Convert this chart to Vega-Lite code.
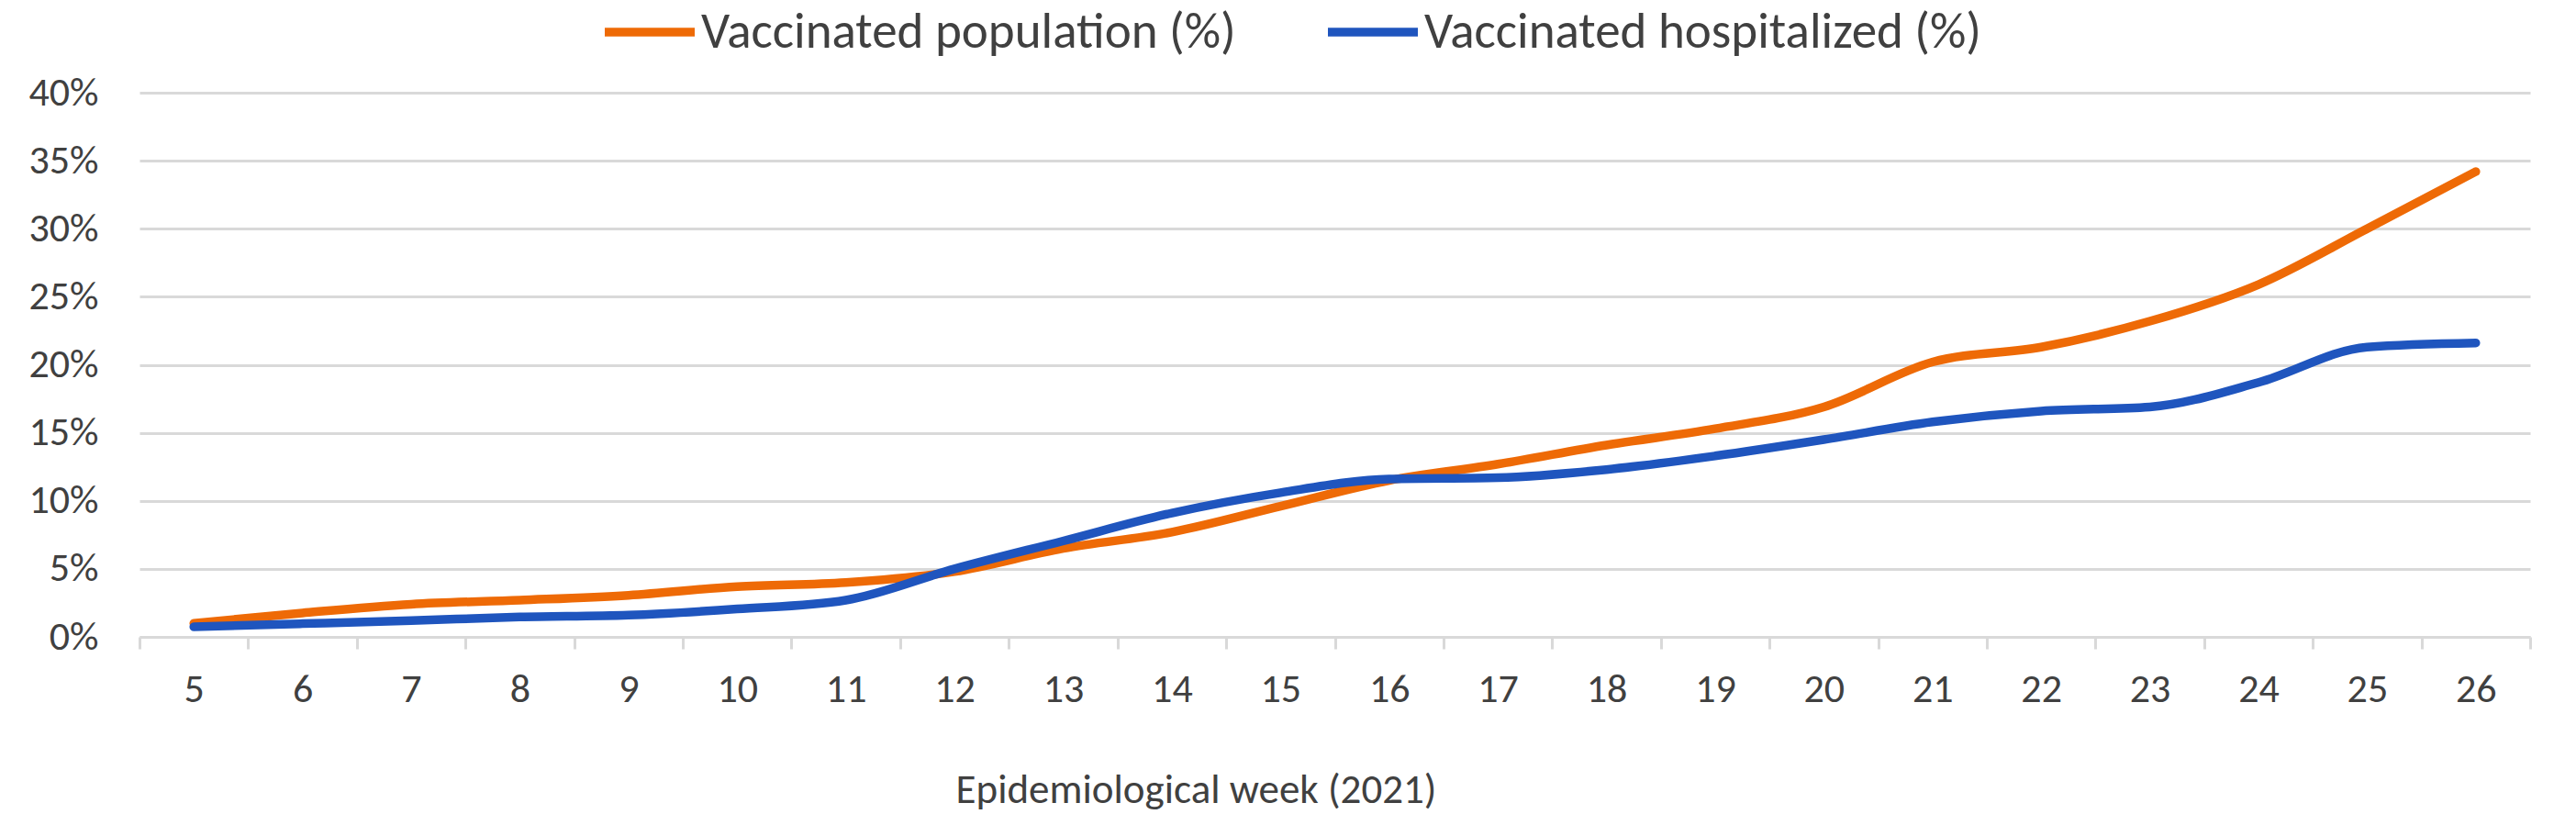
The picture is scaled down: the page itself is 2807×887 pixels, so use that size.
{
  "$schema": "https://vega.github.io/schema/vega-lite/v6.json",
  "width": 2605,
  "height": 593,
  "autosize": "none",
  "padding": {"left": 152, "top": 101, "right": 50, "bottom": 193},
  "background": "white",
  "config": {
    "font": "Carlito, 'Liberation Sans Narrow', 'DejaVu Sans Condensed', sans-serif",
    "view": {"stroke": null}
  },
  "data": {
    "values": [
      {"week": 5, "series": "Vaccinated population (%)", "value": 0.010},
      {"week": 6, "series": "Vaccinated population (%)", "value": 0.0176},
      {"week": 7, "series": "Vaccinated population (%)", "value": 0.024},
      {"week": 8, "series": "Vaccinated population (%)", "value": 0.027},
      {"week": 9, "series": "Vaccinated population (%)", "value": 0.0306},
      {"week": 10, "series": "Vaccinated population (%)", "value": 0.037},
      {"week": 11, "series": "Vaccinated population (%)", "value": 0.040},
      {"week": 12, "series": "Vaccinated population (%)", "value": 0.048},
      {"week": 13, "series": "Vaccinated population (%)", "value": 0.065},
      {"week": 14, "series": "Vaccinated population (%)", "value": 0.077},
      {"week": 15, "series": "Vaccinated population (%)", "value": 0.096},
      {"week": 16, "series": "Vaccinated population (%)", "value": 0.115},
      {"week": 17, "series": "Vaccinated population (%)", "value": 0.127},
      {"week": 18, "series": "Vaccinated population (%)", "value": 0.141},
      {"week": 19, "series": "Vaccinated population (%)", "value": 0.153},
      {"week": 20, "series": "Vaccinated population (%)", "value": 0.169},
      {"week": 21, "series": "Vaccinated population (%)", "value": 0.202},
      {"week": 22, "series": "Vaccinated population (%)", "value": 0.213},
      {"week": 23, "series": "Vaccinated population (%)", "value": 0.232},
      {"week": 24, "series": "Vaccinated population (%)", "value": 0.259},
      {"week": 25, "series": "Vaccinated population (%)", "value": 0.300},
      {"week": 26, "series": "Vaccinated population (%)", "value": 0.342},
      {"week": 5, "series": "Vaccinated hospitalized (%)", "value": 0.0074},
      {"week": 6, "series": "Vaccinated hospitalized (%)", "value": 0.0097},
      {"week": 7, "series": "Vaccinated hospitalized (%)", "value": 0.012},
      {"week": 8, "series": "Vaccinated hospitalized (%)", "value": 0.0146},
      {"week": 9, "series": "Vaccinated hospitalized (%)", "value": 0.016},
      {"week": 10, "series": "Vaccinated hospitalized (%)", "value": 0.0205},
      {"week": 11, "series": "Vaccinated hospitalized (%)", "value": 0.027},
      {"week": 12, "series": "Vaccinated hospitalized (%)", "value": 0.050},
      {"week": 13, "series": "Vaccinated hospitalized (%)", "value": 0.0705},
      {"week": 14, "series": "Vaccinated hospitalized (%)", "value": 0.091},
      {"week": 15, "series": "Vaccinated hospitalized (%)", "value": 0.106},
      {"week": 16, "series": "Vaccinated hospitalized (%)", "value": 0.116},
      {"week": 17, "series": "Vaccinated hospitalized (%)", "value": 0.117},
      {"week": 18, "series": "Vaccinated hospitalized (%)", "value": 0.123},
      {"week": 19, "series": "Vaccinated hospitalized (%)", "value": 0.133},
      {"week": 20, "series": "Vaccinated hospitalized (%)", "value": 0.145},
      {"week": 21, "series": "Vaccinated hospitalized (%)", "value": 0.158},
      {"week": 22, "series": "Vaccinated hospitalized (%)", "value": 0.166},
      {"week": 23, "series": "Vaccinated hospitalized (%)", "value": 0.169},
      {"week": 24, "series": "Vaccinated hospitalized (%)", "value": 0.187},
      {"week": 25, "series": "Vaccinated hospitalized (%)", "value": 0.213},
      {"week": 26, "series": "Vaccinated hospitalized (%)", "value": 0.216}
    ]
  },
  "mark": {"type": "line", "strokeWidth": 9.5, "strokeCap": "round", "interpolate": "monotone"},
  "encoding": {
    "x": {
      "field": "week",
      "type": "ordinal",
      "bandPosition": 0.5,
      "scale": {"type": "band", "paddingInner": 0, "paddingOuter": 0},
      "axis": {
        "title": "Epidemiological week (2021)",
        "titleFontSize": 45,
        "titleFontWeight": "normal",
        "titleColor": "#404040",
        "titleX": 1151,
        "titleY": 166,
        "titleAlign": "center",
        "titleBaseline": "middle",
        "labelAngle": 0,
        "labelFontSize": 44,
        "labelColor": "#404040",
        "labelPadding": 22,
        "tickBand": "extent",
        "tickColor": "#d9d9d9",
        "tickWidth": 3,
        "tickSize": 13,
        "domainColor": "#d9d9d9",
        "domainWidth": 3,
        "grid": false
      }
    },
    "y": {
      "field": "value",
      "type": "quantitative",
      "scale": {"domain": [0, 0.4], "nice": false},
      "axis": {
        "title": null,
        "values": [0, 0.05, 0.1, 0.15, 0.2, 0.25, 0.3, 0.35, 0.4],
        "format": ".0%",
        "labelFontSize": 44,
        "labelColor": "#404040",
        "labelPadding": 45,
        "domain": false,
        "ticks": false,
        "grid": true,
        "gridColor": "#d9d9d9",
        "gridWidth": 3
      }
    },
    "color": {
      "field": "series",
      "type": "nominal",
      "sort": ["Vaccinated population (%)", "Vaccinated hospitalized (%)"],
      "scale": {
        "domain": ["Vaccinated population (%)", "Vaccinated hospitalized (%)"],
        "range": ["#EE6A06", "#1F55BE"]
      },
      "legend": {
        "title": null,
        "orient": "none",
        "legendX": 502,
        "legendY": -120,
        "direction": "horizontal",
        "symbolType": "stroke",
        "symbolSize": 9604,
        "symbolStrokeWidth": 9.5,
        "labelFontSize": 55,
        "labelColor": "#404040",
        "labelOffset": 2,
        "labelLimit": 2000,
        "columnPadding": 81
      }
    }
  }
}
